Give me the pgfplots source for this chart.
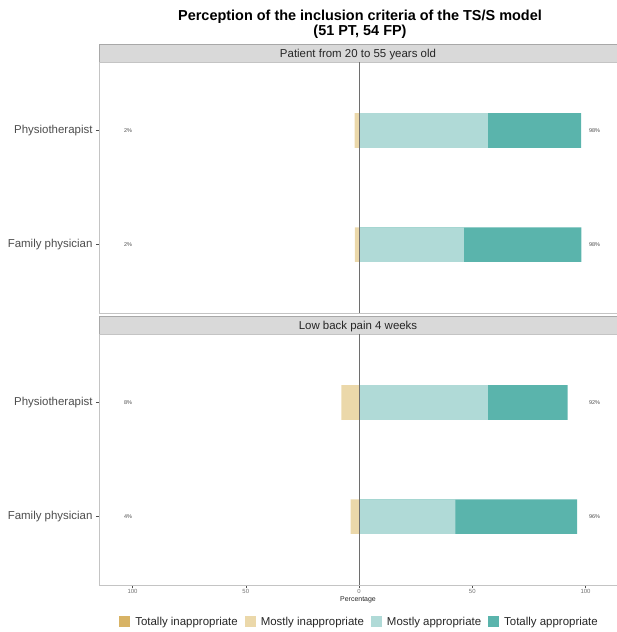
\documentclass[border=0pt]{standalone}
\usepackage{pgfplots}
\usepackage{pgfplotstable}
\pgfplotsset{compat=1.18}
\usepackage{fontspec}
\setmainfont{Liberation Sans}
\definecolor{cTI}{HTML}{D8B365}
\definecolor{cMI}{HTML}{EBD8AA}
\definecolor{cMA}{HTML}{B0DAD7}
\definecolor{cTA}{HTML}{5AB4AC}
\definecolor{stripfill}{HTML}{D9D9D9}
\definecolor{stripdraw}{HTML}{A8A8A8}
\definecolor{frame}{HTML}{C4C4C4}
\definecolor{txt}{HTML}{4D4D4D}
\definecolor{zline}{HTML}{6E6E6E}

% shares in percent (MI shown negative)
\pgfplotstableread{
cat MI MA TA
1 -1.96 56.86 41.18
2 -1.85 46.30 51.85
}\ageTable
\pgfplotstableread{
cat MI MA TA
1 -7.84 56.86 35.29
2 -3.70 42.59 53.70
}\painTable

\tikzset{pct/.style={font=\fontsize{5.5}{6}\selectfont, text=txt}}
\pgfplotsset{
  panel/.style={
    scale only axis, width=518bp, height=251bp,
    xmin=-114.8, xmax=113.9, ymin=0.4, ymax=2.6, y dir=reverse,
    ytick={1,2}, yticklabels={Physiotherapist,Family physician},
    ytick pos=left, xtick pos=bottom,
    axis line style={frame, line width=0.6bp},
    tick style={color=txt, line width=0.5bp},
    tick align=outside, major tick length=3bp,
    y tick label style={font=\fontsize{11.5}{13}\selectfont, text=txt},
    /pgf/number format/assume math mode=true,
    clip=false,
  },
  barTA/.style={xbar, bar width=34.6bp, bar shift=0pt, fill=cTA, draw=none, forget plot},
  barMA/.style={xbar, bar width=34.6bp, bar shift=0pt, fill=cMA, draw=none, forget plot},
  barMI/.style={xbar, bar width=34.6bp, bar shift=0pt, fill=cMI, draw=none, forget plot},
}

\begin{document}
\begin{tikzpicture}
\useasboundingbox (0,0) rectangle (617bp,-632bp);

% title
\node[font=\fontsize{14.5}{16}\selectfont\bfseries] at (360bp,-16.5bp) {Perception of the inclusion criteria of the TS/S model};
\node[font=\fontsize{14.5}{16}\selectfont\bfseries] at (360bp,-31.5bp) {(51 PT, 54 FP)};

% strips
\draw[fill=stripfill, draw=stripdraw, line width=0.6bp] (99bp,-44bp) rectangle (618bp,-62bp);
\node[font=\fontsize{11.5}{13}\selectfont, text=black!85] at (358bp,-54.5bp) {Patient from 20 to 55 years old};
\draw[fill=stripfill, draw=stripdraw, line width=0.6bp] (99bp,-316bp) rectangle (618bp,-334bp);
\node[font=\fontsize{11.5}{13}\selectfont, text=black!85] at (358bp,-326.5bp) {Low back pain 4 weeks};

% panel 1
\begin{axis}[panel, at={(99bp,-62bp)}, anchor=north west, xtick=\empty]
\addplot[barTA] table[x expr=\thisrow{MA}+\thisrow{TA}, y=cat] {\ageTable};
\addplot[barMA] table[x=MA, y=cat] {\ageTable};
\addplot[barMI] table[x=MI, y=cat] {\ageTable};
\draw[color=zline, line width=0.8bp] (axis cs:0,0.4) -- (axis cs:0,2.6);
\node[pct] at (axis cs:-102,1) {2\%};
\node[pct] at (axis cs:-102,2) {2\%};
\node[pct] at (axis cs:104,1) {98\%};
\node[pct] at (axis cs:104,2) {98\%};
\end{axis}

% panel 2
\begin{axis}[panel, at={(99bp,-334bp)}, anchor=north west,
  xtick={-100,-50,0,50,100}, xticklabels={100,50,0,50,100},
  x tick label style={font=\fontsize{6}{7}\selectfont, text=txt!80, inner sep=1.5bp},
  xlabel={Percentage},
  xlabel style={font=\fontsize{7}{8}\selectfont, text=black!85, inner sep=1bp},
  legend style={at={(0.503,-0.147)}, anchor=center, draw=none, fill=none,
    legend columns=4, font=\fontsize{11.5}{13}\selectfont, text=black!85,
    /tikz/every odd column/.append style={column sep=3bp},
    /tikz/every even column/.append style={column sep=5bp},
    inner sep=0pt},
  legend cell align=left,
  legend image code/.code={\fill[#1] (0bp,-5.5bp) rectangle (11bp,5.5bp);},
]
\addlegendimage{fill=cTI, draw=none}
\addlegendentry{Totally inappropriate}
\addlegendimage{fill=cMI, draw=none}
\addlegendentry{Mostly inappropriate}
\addlegendimage{fill=cMA, draw=none}
\addlegendentry{Mostly appropriate}
\addlegendimage{fill=cTA, draw=none}
\addlegendentry{Totally appropriate}
\addplot[barTA] table[x expr=\thisrow{MA}+\thisrow{TA}, y=cat] {\painTable};
\addplot[barMA] table[x=MA, y=cat] {\painTable};
\addplot[barMI] table[x=MI, y=cat] {\painTable};
\draw[color=zline, line width=0.8bp] (axis cs:0,0.4) -- (axis cs:0,2.6);
\node[pct] at (axis cs:-102,1) {8\%};
\node[pct] at (axis cs:-102,2) {4\%};
\node[pct] at (axis cs:104,1) {92\%};
\node[pct] at (axis cs:104,2) {96\%};
\end{axis}
\end{tikzpicture}
\end{document}
